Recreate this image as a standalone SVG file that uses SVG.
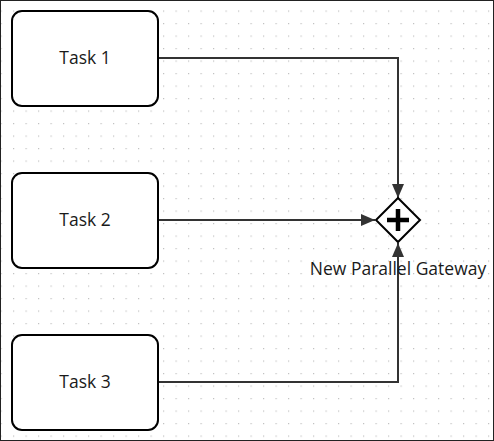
<svg xmlns="http://www.w3.org/2000/svg" width="494" height="441" viewBox="0 0 494 441">
  <style>
    .task rect { fill: #ffffff; stroke: #000000; stroke-width: 2; }
    .label { font-family: "Open Sans", "Liberation Sans", sans-serif; font-size: 17.5px; fill: #1a1a1a; text-anchor: middle; }
    .conn { fill: none; stroke: #333333; stroke-width: 2; }
  </style>
  <defs>
    <pattern id="grid" patternUnits="userSpaceOnUse" x="0.5" y="10.5" width="12.5" height="12.5">
      <rect x="0" y="0" width="1.2" height="1.2" fill="#c0c0c0"/>
    </pattern>
    <marker id="arrow" viewBox="0 0 14 12" refX="14" refY="6" markerWidth="14" markerHeight="12" markerUnits="userSpaceOnUse" orient="auto">
      <path d="M0,0 L14,6 L0,12 Z" fill="#333333"/>
    </marker>
  </defs>
  <rect x="0" y="0" width="494" height="441" fill="#ffffff"/>
  <rect x="0" y="0" width="494" height="441" fill="url(#grid)"/>
  <rect x="0.5" y="0.5" width="493" height="440" fill="none" stroke="#222222" stroke-width="1"/>

  <g id="connectors">
    <path id="c1" class="conn" d="M158,58 L398,58 L398,198" marker-end="url(#arrow)"/>
    <path id="c2" class="conn" d="M158,220 L375,220" marker-end="url(#arrow)"/>
    <path id="c3" class="conn" d="M158,382 L398,382 L398,243" marker-end="url(#arrow)"/>
  </g>

  <g id="task1" class="task">
    <rect x="12" y="11" width="146" height="95" rx="10" ry="10"/>
    <text class="label" x="85" y="64">Task 1</text>
  </g>
  <g id="task2" class="task">
    <rect x="12" y="173" width="146" height="95" rx="10" ry="10"/>
    <text class="label" x="85" y="226">Task 2</text>
  </g>
  <g id="task3" class="task">
    <rect x="12" y="335" width="146" height="95" rx="10" ry="10"/>
    <text class="label" x="85" y="388">Task 3</text>
  </g>

  <g id="gateway">
    <path d="M398,198 L420,220 L398,242 L376,220 Z" fill="#ffffff" stroke="#000000" stroke-width="2"/>
    <path d="M387,220 L409,220 M398,209 L398,231" stroke="#000000" stroke-width="4.5" fill="none"/>
    <text class="label" x="398" y="275">New Parallel Gateway</text>
  </g>
</svg>
